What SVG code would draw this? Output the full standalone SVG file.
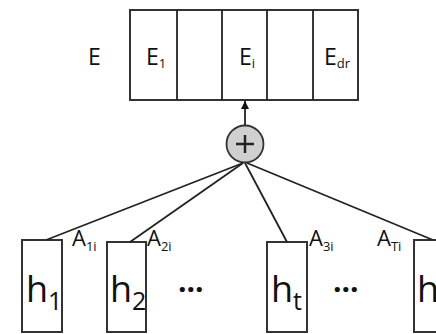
<svg xmlns="http://www.w3.org/2000/svg" width="436" height="334" viewBox="0 0 436 334">
<style>
.box{fill:#fff;stroke:#333;stroke-width:2}
.ln{stroke:#222;stroke-width:1.8;fill:none}
.t{font-family:"Open Sans","Liberation Sans",sans-serif;fill:#111}
.lbl{font-size:23px}
.al{font-size:22px}
.sub{font-size:13px}
.h{font-size:36px}
.hs{font-size:25px}
</style>
<defs>
<marker id="arr" viewBox="0 0 10 10" refX="10" refY="5" markerWidth="4.5" markerHeight="4.5" orient="auto" markerUnits="strokeWidth">
<path d="M0,0 L10,5 L0,10 z" fill="#111"/>
</marker>
</defs>
<rect width="436" height="334" fill="#fff"/>
<g id="E-vector">
<text class="t lbl" x="88" y="65">E</text>
<rect class="box" x="130" y="10" width="228" height="90"/>
<line class="ln" x1="177" y1="10" x2="177" y2="100" stroke-width="2"/>
<line class="ln" x1="222" y1="10" x2="222" y2="100" stroke-width="2"/>
<line class="ln" x1="267" y1="10" x2="267" y2="100" stroke-width="2"/>
<line class="ln" x1="313" y1="10" x2="313" y2="100" stroke-width="2"/>
<text class="t lbl" x="146" y="65">E<tspan class="sub" dy="3">1</tspan></text>
<text class="t lbl" x="239" y="65">E<tspan class="sub" dy="3">i</tspan></text>
<text class="t lbl" x="324" y="65">E<tspan class="sub" dy="3">dr</tspan></text>
</g>
<g id="sum">
<circle cx="245" cy="144" r="18.5" fill="#d0d0d0" stroke="#333" stroke-width="1.8"/>
<line x1="236" y1="144" x2="254" y2="144" stroke="#222" stroke-width="2.5"/>
<line x1="245" y1="135" x2="245" y2="153" stroke="#222" stroke-width="2.5"/>
</g>
<g id="h1">
<rect class="box" x="22" y="240" width="40" height="92"/>
<text class="t h" x="26" y="302">h<tspan class="hs" dy="8">1</tspan></text>
</g>
<g id="h2">
<rect class="box" x="107" y="242" width="39" height="90"/>
<text class="t h" x="110" y="302">h<tspan class="hs" dy="8">2</tspan></text>
</g>
<g id="ht">
<rect class="box" x="267" y="242" width="40" height="90"/>
<text class="t h" x="271" y="302">h<tspan class="hs" dy="8">t</tspan></text>
</g>
<g id="hT">
<rect class="box" x="414" y="240" width="40" height="92"/>
<text class="t h" x="417" y="302">h</text>
</g>
<g id="dots">
<text class="t" x="178" y="300" font-size="30" font-weight="bold">···</text>
<text class="t" x="333" y="300" font-size="30" font-weight="bold">···</text>
</g>
<g id="connectors">
<line class="ln" x1="245" y1="125.5" x2="245" y2="101" marker-end="url(#arr)"/>
<line class="ln" x1="243" y1="163" x2="46" y2="240"/>
<line class="ln" x1="243" y1="163" x2="130" y2="242"/>
<line class="ln" x1="245" y1="163" x2="287" y2="242"/>
<line class="ln" x1="247" y1="163" x2="433" y2="240"/>
</g>
<g id="weights">
<text class="t al" x="72" y="246">A<tspan class="sub" dy="5">1i</tspan></text>
<text class="t al" x="147" y="246">A<tspan class="sub" dy="5">2i</tspan></text>
<text class="t al" x="309" y="246">A<tspan class="sub" dy="5">3i</tspan></text>
<text class="t al" x="377" y="246">A<tspan class="sub" dy="5">Ti</tspan></text>
</g>
</svg>
